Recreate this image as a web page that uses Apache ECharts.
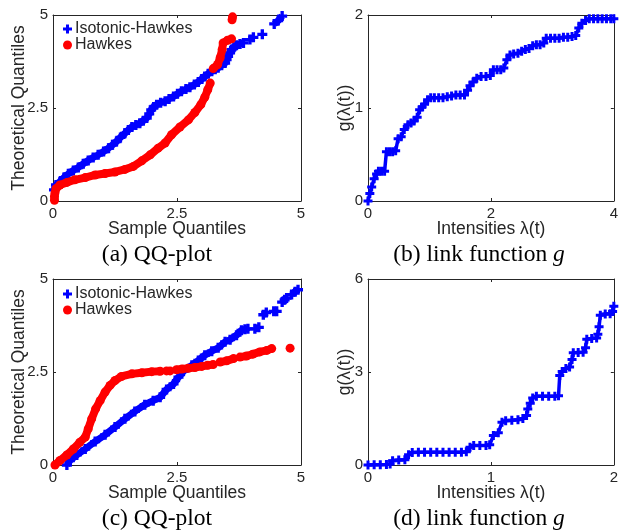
<!DOCTYPE html>
<html>
<head>
<meta charset="utf-8">
<script src="https://cdn.jsdelivr.net/npm/echarts@6/dist/echarts.min.js"></script>
<style>html,body{margin:0;padding:0;background:#fff;}#c{width:621px;height:531px;}</style>
</head>
<body>
<div id="c"></div>
<script>
// ---------- DATA ----------
// (a) QQ-plot
const qqA_isoX = [0.02,0.06,0.14,0.22,0.31,0.41,0.51,0.61,0.71,0.81,0.91,1.02,1.12,1.20,1.28,1.36,1.45,1.52,1.59,1.67,1.75,1.82,1.89,1.94,1.98,2.03,2.09,2.17,2.26,2.34,2.43,2.51,2.59,2.68,2.76,2.85,2.93,3.00,3.06,3.13,3.20,3.27,3.33,3.40,3.47,3.50,3.53,3.57,3.60,3.65,3.70,3.77,3.84,null,3.97,4.04,null,4.22,null,4.46,4.54,4.62];
const qqA_isoY = [0.30,0.43,0.52,0.63,0.73,0.82,0.90,1.00,1.09,1.17,1.24,1.33,1.42,1.51,1.60,1.71,1.82,1.91,1.99,2.04,2.09,2.16,2.23,2.34,2.45,2.53,2.59,2.64,2.68,2.74,2.81,2.88,2.95,3.01,3.06,3.13,3.20,3.28,3.35,3.42,3.49,3.54,3.58,3.65,3.71,3.80,3.89,3.98,4.07,4.13,4.19,4.22,4.25,null,4.34,4.40,null,4.48,null,4.76,4.85,4.97];
const qqA_hawX = [0.03,0.03,0.04,0.06,0.14,0.28,0.44,0.65,0.85,1.05,1.25,1.45,1.62,1.79,1.96,2.12,2.26,2.39,2.56,2.73,2.86,2.98,3.06,3.12,3.17,null,3.23,3.32,3.37,3.41,3.43,3.52,3.60,null,3.61,3.62];
const qqA_hawY = [0.02,0.12,0.22,0.33,0.43,0.50,0.57,0.63,0.70,0.74,0.78,0.85,0.93,1.08,1.24,1.42,1.56,1.78,1.99,2.18,2.38,2.59,2.79,2.99,3.17,null,3.56,3.67,3.85,4.07,4.25,4.32,4.36,null,4.87,4.95];
// (b) link function g
const linkB_x = [0.00,0.03,0.06,0.10,0.14,0.17,0.22,0.27,0.30,0.35,0.40,0.45,0.49,0.54,0.59,0.65,0.70,0.75,0.80,0.84,0.88,0.92,0.97,1.02,1.08,1.15,1.22,1.29,1.36,1.43,1.50,1.57,1.62,1.66,1.71,1.77,1.84,1.92,1.99,2.04,2.10,2.16,2.21,2.26,2.31,2.37,2.44,2.50,2.56,2.62,2.68,2.74,2.80,2.86,2.90,2.97,3.04,3.11,3.18,3.25,3.32,3.38,3.43,3.48,3.54,3.60,3.67,3.74,3.81,3.88,3.95,4.00];
const linkB_y = [0.00,0.08,0.15,0.24,0.29,0.32,0.32,0.32,0.53,0.53,0.53,0.54,0.67,0.69,0.77,0.82,0.84,0.86,0.90,0.98,1.01,1.04,1.09,1.11,1.11,1.11,1.11,1.12,1.13,1.14,1.14,1.14,1.19,1.24,1.28,1.32,1.34,1.34,1.35,1.41,1.41,1.41,1.43,1.52,1.57,1.58,1.59,1.61,1.63,1.64,1.67,1.68,1.68,1.70,1.75,1.75,1.75,1.75,1.76,1.76,1.77,1.78,1.86,1.91,1.94,1.96,1.96,1.96,1.96,1.96,1.96,1.96];
// (c) QQ-plot
const qqC_isoX = [0.28,0.34,0.48,0.65,0.85,1.05,1.25,1.45,1.65,1.85,2.02,2.16,2.29,2.43,2.53,2.63,2.80,2.93,3.06,3.20,3.33,3.47,3.57,3.70,3.80,3.87,3.93,null,4.07,4.15,null,4.24,4.30,null,4.45,4.51,null,4.62,4.67,4.71,null,4.81,4.88,4.94];
const qqC_isoY = [0.00,0.12,0.27,0.43,0.63,0.81,1.02,1.24,1.44,1.62,1.73,1.82,2.03,2.18,2.36,2.52,2.68,2.81,2.95,3.06,3.15,3.31,3.37,3.49,3.62,3.65,3.66,null,3.66,3.70,null,4.04,4.10,null,4.13,4.13,null,4.38,4.44,4.49,null,4.58,4.66,4.71];
const qqC_hawX = [0.04,0.14,0.28,0.41,0.54,0.65,0.71,0.78,0.86,0.95,1.05,1.15,1.25,1.38,1.59,1.79,1.99,2.16,null,2.29,2.36,null,2.49,2.60,2.73,2.86,3.00,3.12,3.23,null,3.37,3.50,3.64,null,3.77,3.90,4.03,4.17,4.31,4.41,null,4.78];
const qqC_hawY = [0.00,0.12,0.27,0.43,0.61,0.75,0.97,1.24,1.51,1.73,1.96,2.14,2.27,2.38,2.45,2.48,2.51,2.52,null,2.53,2.53,null,2.56,2.58,2.60,2.62,2.65,2.68,2.70,null,2.77,2.80,2.86,null,2.90,2.93,2.98,3.04,3.08,3.13,null,3.14];
// (d) link function g
const linkD_x = [0.00,0.05,0.10,0.15,0.18,0.20,0.25,0.30,0.33,0.36,0.41,0.46,0.51,0.56,0.61,0.66,0.71,0.76,0.80,0.83,0.86,0.91,0.96,0.99,1.02,1.06,1.09,1.12,1.17,1.22,1.26,1.29,1.30,1.32,1.34,1.37,1.42,1.47,1.52,1.55,1.56,1.58,1.61,1.64,1.66,1.67,1.71,1.75,1.77,1.78,1.82,1.86,1.87,1.88,1.89,1.93,1.97,1.99,2.00];
const linkD_y = [0.00,0.01,0.01,0.02,0.03,0.14,0.16,0.17,0.33,0.40,0.41,0.41,0.41,0.41,0.41,0.41,0.41,0.41,0.43,0.57,0.63,0.63,0.63,0.65,0.95,1.04,1.38,1.43,1.44,1.46,1.50,1.60,1.81,1.99,2.16,2.22,2.22,2.22,2.22,2.23,2.89,3.02,3.11,3.16,3.40,3.62,3.63,3.64,3.78,4.06,4.08,4.10,4.22,4.46,4.83,4.87,4.88,4.95,5.12];

// axis ranges / ticks
const qqRange = {min: 0, max: 5, interval: 2.5};
const bXRange = {min: 0, max: 4, interval: 2};
const bYRange = {min: 0, max: 2, interval: 1};
const dXRange = {min: 0, max: 2, interval: 1};
const dYRange = {min: 0, max: 6, interval: 3};

const captions = ['(a) QQ-plot', '(b) link function {i|g}', '(c) QQ-plot', '(d) link function {i|g}'];
const seriesNames = ['Isotonic-Hawkes', 'Hawkes'];

// ---------- CHART ----------
const BLUE = '#0000ff', RED = '#ff0000', INK = '#262626';
const SANS = 'Liberation Sans', SERIF = 'Liberation Serif';
const PLUS = 'path://M3,0H6V3H9V6H6V9H3V6H0V3H3Z';

function toData(xs, ys) {
  return xs.map((x, i) => (x === null || ys[i] === null) ? ['-', '-'] : [x, ys[i]]);
}

const grids = [
  {left: 53, top: 15, width: 248, height: 186},
  {left: 368, top: 15, width: 249, height: 186},
  {left: 53, top: 279, width: 248, height: 186},
  {left: 368, top: 279, width: 249, height: 186}
];

function baseAxis(extra) {
  return Object.assign({
    type: 'value',
    axisLine: {show: true, onZero: false, lineStyle: {color: INK, width: 1}},
    axisTick: {show: true, inside: true, length: 3, lineStyle: {color: INK, width: 1}},
    splitLine: {show: false},
    axisLabel: {show: true, color: INK, fontSize: 15, fontFamily: SANS, margin: 5, showMinLabel: true, showMaxLabel: true},
    nameLocation: 'middle',
    nameMoveOverlap: false,
    nameTextStyle: {color: INK, fontSize: 17.5, fontFamily: SANS}
  }, extra);
}

const xAxes = [], yAxes = [];
function addAxes(g, xr, yr, xname, yname, yGap) {
  xAxes.push(baseAxis(Object.assign({gridIndex: g, position: 'bottom', name: xname, nameGap: 19}, xr)));
  xAxes.push(baseAxis(Object.assign({gridIndex: g, position: 'top', axisLabel: {show: false}}, xr)));
  yAxes.push(baseAxis(Object.assign({gridIndex: g, position: 'left', name: yname, nameGap: yGap}, yr)));
  yAxes.push(baseAxis(Object.assign({gridIndex: g, position: 'right', axisLabel: {show: false}}, yr)));
}
addAxes(0, qqRange, qqRange, 'Sample Quantiles', 'Theoretical Quantiles', 25);
addAxes(1, bXRange, bYRange, 'Intensities λ(t)', 'g(λ(t))', 14);
addAxes(2, qqRange, qqRange, 'Sample Quantiles', 'Theoretical Quantiles', 25);
addAxes(3, dXRange, dYRange, 'Intensities λ(t)', 'g(λ(t))', 14);

function qqSeries(name, g, xs, ys, isIso) {
  return {
    name: name, type: 'line', xAxisIndex: 2 * g, yAxisIndex: 2 * g,
    data: toData(xs, ys), clip: false, connectNulls: false,
    symbol: isIso ? PLUS : 'circle', symbolSize: isIso ? 10 : 9,
    showSymbol: true, showAllSymbol: true,
    lineStyle: {color: isIso ? BLUE : RED, width: isIso ? 7 : 8},
    itemStyle: {color: isIso ? BLUE : RED},
    z: isIso ? 2 : 3, animation: false, silent: true
  };
}
function linkSeries(g, xs, ys) {
  return {
    name: 'link' + g, type: 'line', xAxisIndex: 2 * g, yAxisIndex: 2 * g,
    data: toData(xs, ys), clip: false,
    symbol: PLUS, symbolSize: 9, showSymbol: true, showAllSymbol: true,
    lineStyle: {color: BLUE, width: 3.5}, itemStyle: {color: BLUE},
    animation: false, silent: true
  };
}

const series = [
  qqSeries(seriesNames[0], 0, qqA_isoX, qqA_isoY, true),
  qqSeries(seriesNames[1], 0, qqA_hawX, qqA_hawY, false),
  linkSeries(1, linkB_x, linkB_y),
  qqSeries(seriesNames[0], 2, qqC_isoX, qqC_isoY, true),
  qqSeries(seriesNames[1], 2, qqC_hawX, qqC_hawY, false),
  linkSeries(3, linkD_x, linkD_y)
];

function legendAt(top) {
  return {
    orient: 'vertical', left: 63, top: top, padding: 0, itemGap: 0,
    itemWidth: 9, itemHeight: 9, selectedMode: false,
    textStyle: {color: INK, fontSize: 16, fontFamily: SANS, lineHeight: 15, padding: [0, 0, 0, -2]},
    data: [{name: seriesNames[0], icon: PLUS}, {name: seriesNames[1], icon: 'circle'}]
  };
}

const capPos = [[157, 255], [479, 255], [157, 519], [479, 519]];
const graphic = captions.map((t, i) => ({
  type: 'text', x: capPos[i][0], y: capPos[i][1], silent: true,
  style: {
    text: t, fill: '#000', font: '23.5px "' + SERIF + '"', align: 'center', verticalAlign: 'middle',
    rich: {i: {fontStyle: 'italic', fontSize: 23.5, fontFamily: SERIF, fill: '#000'}}
  }
}));

const chart = echarts.init(document.getElementById('c'), null, {renderer: 'canvas'});
chart.setOption({
  backgroundColor: '#fff',
  animation: false,
  grid: grids,
  xAxis: xAxes,
  yAxis: yAxes,
  legend: [legendAt(21), legendAt(286)],
  series: series,
  graphic: graphic
});
</script>
</body>
</html>
